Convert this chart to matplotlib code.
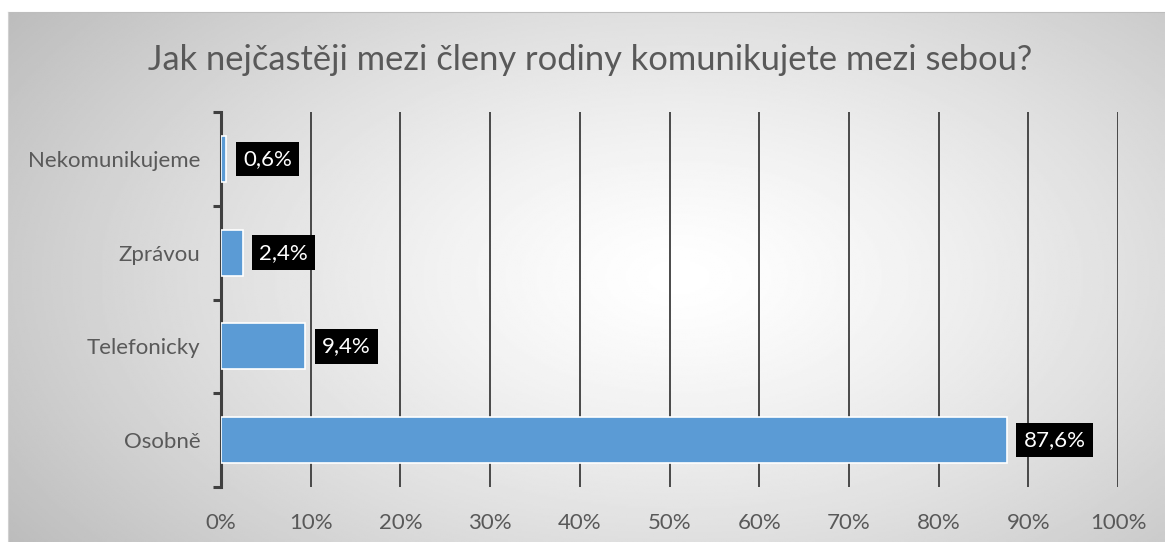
import numpy as np
import matplotlib.pyplot as plt

categories = ["Osobně", "Telefonicky", "Zprávou", "Nekomunikujeme"]
values = [87.6, 9.4, 2.4, 0.6]
labels = ["87,6%", "9,4%", "2,4%", "0,6%"]
x_ticks = list(range(0, 101, 10))
x_tick_labels = [f"{t}%" for t in x_ticks]
title = "Jak nejčastěji mezi členy rodiny komunikujete mezi sebou?"

W, H = 1165, 542
plt.rcParams["font.family"] = ["Lato", "DejaVu Sans"]
fig = plt.figure(figsize=(W / 100, H / 100), dpi=100)

# radial gradient background of the chart area
bg = fig.add_axes([8 / W, 0, 1 - 8 / W, 1 - 12 / H])
yy, xx = np.mgrid[0:1:300j, 0:1:600j]
r = np.sqrt(((xx - 0.58) / 0.72) ** 2 + ((yy - 0.5) / 0.9) ** 2)
shade = 1.0 - 0.27 * np.clip(r, 0, 1) ** 1.3
bg.imshow(shade, cmap="gray", vmin=0, vmax=1, aspect="auto", extent=[0, 1, 0, 1])
bg.set_axis_off()
fig.add_artist(plt.Line2D([8 / W, 1], [1 - 12 / H, 1 - 12 / H], color="#bdbdbd", lw=0.8))
fig.add_artist(plt.Line2D([8 / W, 8 / W], [0, 1 - 12 / H], color="#d0d0d0", lw=0.8))

ax = fig.add_axes([221 / W, 1 - 487 / H, (1118 - 221) / W, (487 - 112) / H])
ax.patch.set_alpha(0)
y = np.arange(len(categories))
ax.barh(y, values, height=0.49, color="#5b9bd5", edgecolor="white", linewidth=1.2, zorder=3)

for yi, v, lab in zip(y, values, labels):
    ax.annotate(lab, (v, yi), xytext=(12, 0), textcoords="offset points",
                ha="left", va="center", color="white", fontsize=16,
                bbox=dict(boxstyle="square,pad=0.33", facecolor="black", edgecolor="none"),
                zorder=4)

ax.set_xlim(0, 100)
ax.set_ylim(-0.5, len(categories) - 0.5)
ax.set_xticks(x_ticks)
ax.set_xticklabels(x_tick_labels)
ax.set_yticks(y)
ax.set_yticklabels(categories)
ax.set_yticks(np.arange(-0.5, len(categories)), minor=True)

ax.grid(axis="x", color="#3c3c3c", linewidth=1.3, zorder=1)
ax.tick_params(axis="x", length=0, pad=19, labelsize=16, labelcolor="#595959")
ax.tick_params(axis="y", which="major", length=0, pad=15, labelsize=16, labelcolor="#595959")
ax.tick_params(axis="y", which="minor", length=6, width=2.2, color="#404040")
for s in ["top", "right", "bottom"]:
    ax.spines[s].set_visible(False)
ax.spines["left"].set_color("#404040")
ax.spines["left"].set_linewidth(2.2)

fig.text(590 / W, 1 - 60 / H, title, ha="center", va="center", fontsize=24.8, color="#595959")

fig.savefig("out.png", dpi=100, facecolor="white")
